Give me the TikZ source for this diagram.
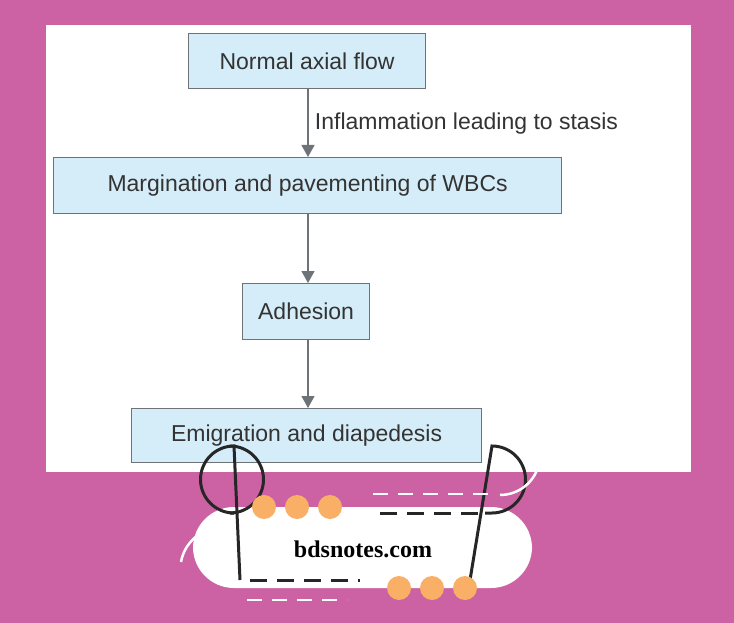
\documentclass[tikz,border=0pt]{standalone}
\usepackage{fontspec}
\setmainfont{Liberation Sans}
\newfontfamily\logofont{Liberation Serif}
\definecolor{bgm}{HTML}{CC62A4}
\definecolor{boxb}{HTML}{D5EDF9}
\definecolor{boxl}{HTML}{6E7378}
\definecolor{dotc}{HTML}{F9B066}
\definecolor{txt}{HTML}{333333}
\begin{document}
\begin{tikzpicture}[x=1pt,y=-1pt,
  box/.style={draw=boxl,fill=boxb,line width=1.2pt,inner sep=0,font=\fontsize{23}{26}\selectfont,text=txt,anchor=north west},
  arr/.style={draw=boxl,line width=1.2pt,-{Triangle[length=12pt,width=13pt]}}]
\usetikzlibrary{arrows.meta}
\fill[bgm] (0,0) rectangle (734,623);
\useasboundingbox (0,0) rectangle (734,623);
\fill[white] (46,25) rectangle (691,472);
\node[box,minimum width=237pt,minimum height=55pt] (n1) at (188,33) {Normal axial flow};
\node[box,minimum width=508pt,minimum height=56pt] (n2) at (53,157) {Margination and pavementing of WBCs};
\node[box,minimum width=127pt,minimum height=56pt] (n3) at (242,283) {Adhesion};
\node[box,minimum width=350pt,minimum height=54pt] (n4) at (131,408) {Emigration and diapedesis};
\draw[arr] (n1.south-|308,0) -- (n2.north-|308,0) node[midway,right=3pt,font=\fontsize{23}{26}\selectfont,text=txt] (lb) {Inflammation leading to stasis};
\draw[arr] (n2.south-|308,0) -- (n3.north-|308,0);
\draw[arr] (n3.south-|308,0) -- (n4.north-|308,0);
% logo
\fill[white,rounded corners=41pt] (193,507) rectangle (532,588);
\draw[black!85,line width=3pt] (234,513) -- (230,513) arc[start angle=270,end angle=90,radius=-33.5] ;
\draw[black!85,line width=3pt] (234,513) arc[start angle=90,end angle=270,radius=33.5] -- (240,580);
\draw[black!85,line width=3pt,dash pattern=on 17pt off 10pt] (380,513) -- (480,513);
\draw[black!85,line width=3pt] (485,513) -- (492,513) arc[start angle=90,end angle=-90,radius=33.5] -- (470,580);
\draw[black!85,line width=3pt,dash pattern=on 17pt off 10pt] (250,580) -- (360,580);
\foreach \x/\n in {264/a,297/b,330/c}{\fill[dotc] (\x,507) circle (12pt);}
\foreach \x/\n in {399/d,432/e,465/f}{\fill[dotc] (\x,588) circle (12pt);}
\draw[white,line width=2.5pt,dash pattern=on 15pt off 10pt] (373,494) -- (490,494);
\draw[white,line width=2.5pt] (500,495) arc[start angle=90,end angle=15,radius=40];
\draw[white,line width=2.5pt] (181,562) arc[start angle=190,end angle=255,radius=42];
\draw[white,line width=2.5pt,dash pattern=on 15pt off 10pt] (247,600) -- (347,600);
\node[font=\logofont\bfseries\fontsize{24}{28}\selectfont] (logo) at (363,549) {bdsnotes.com};
\end{tikzpicture}
\end{document}
